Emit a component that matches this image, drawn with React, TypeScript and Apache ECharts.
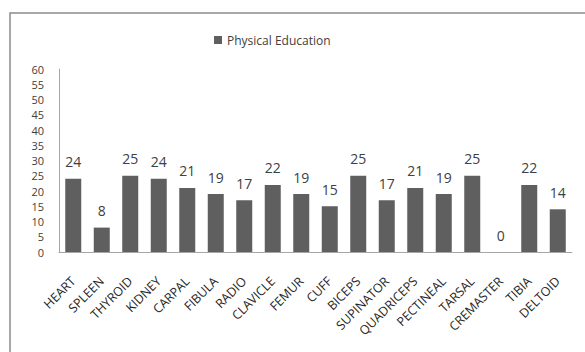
import React, { useEffect, useRef } from "react";
import * as echarts from "echarts";

const categories = [
  "HEART", "SPLEEN", "THYROID", "KIDNEY", "CARPAL", "FIBULA", "RADIO", "CLAVICLE", "FEMUR",
  "CUFF", "BICEPS", "SUPINATOR", "QUADRICEPS", "PECTINEAL", "TARSAL", "CREMASTER", "TIBIA", "DELTOID",
];
const physicalEducation = [24, 8, 25, 24, 21, 19, 17, 22, 19, 15, 25, 17, 21, 19, 25, 0, 22, 14];
const seriesName = "Physical Education";

export default function App() {
  const ref = useRef<HTMLDivElement>(null);
  useEffect(() => {
    if (!ref.current) return;
    const chart = echarts.init(ref.current, null, { renderer: "svg" });
    const font = "'Open Sans', 'DejaVu Sans', sans-serif";
    chart.setOption({
      animation: false,
      backgroundColor: "#ffffff",
      textStyle: { fontFamily: font },
      graphic: [
        {
          type: "rect",
          shape: { x: 10, y: 13, width: 700, height: 500 },
          style: { fill: "none", stroke: "#8c8c8c", lineWidth: 1.5 },
          silent: true,
        },
      ],
      legend: {
        data: [seriesName],
        left: 209,
        top: 29,
        itemWidth: 8,
        itemHeight: 8,
        itemGap: 4,
        icon: "rect",
        textStyle: { fontSize: 12, color: "#404040", fontFamily: font },
      },
      grid: { left: 59, right: 13, top: 69, bottom: 100, containLabel: false },
      xAxis: {
        type: "category",
        data: categories,
        axisLine: { show: true, lineStyle: { color: "#a6a6a6", width: 1 } },
        axisTick: { show: false },
        axisLabel: {
          rotate: 45,
          interval: 0,
          margin: 27,
          fontSize: 12.5,
          color: "#262626",
          fontFamily: font,
        },
      },
      yAxis: {
        type: "value",
        min: 0,
        max: 60,
        interval: 5,
        splitLine: { show: false },
        axisLine: { show: true, lineStyle: { color: "#a6a6a6", width: 1 } },
        axisTick: { show: false },
        axisLabel: {
          fontSize: 11,
          lineHeight: 11,
          color: "#404040",
          margin: 15,
          fontFamily: font,
        },
      },
      series: [
        {
          name: seriesName,
          type: "bar",
          data: physicalEducation,
          barWidth: 16,
          itemStyle: { color: "#5f5f5f" },
          label: {
            show: true,
            position: "top",
            distance: 10,
            fontSize: 14,
            color: "#404040",
            fontFamily: font,
          },
        },
      ],
    });
    return () => chart.dispose();
  }, []);
  return (
    <div
      ref={ref}
      style={{ position: "fixed", left: 0, top: 0, width: 585, height: 352, background: "#fff" }}
    />
  );
}
